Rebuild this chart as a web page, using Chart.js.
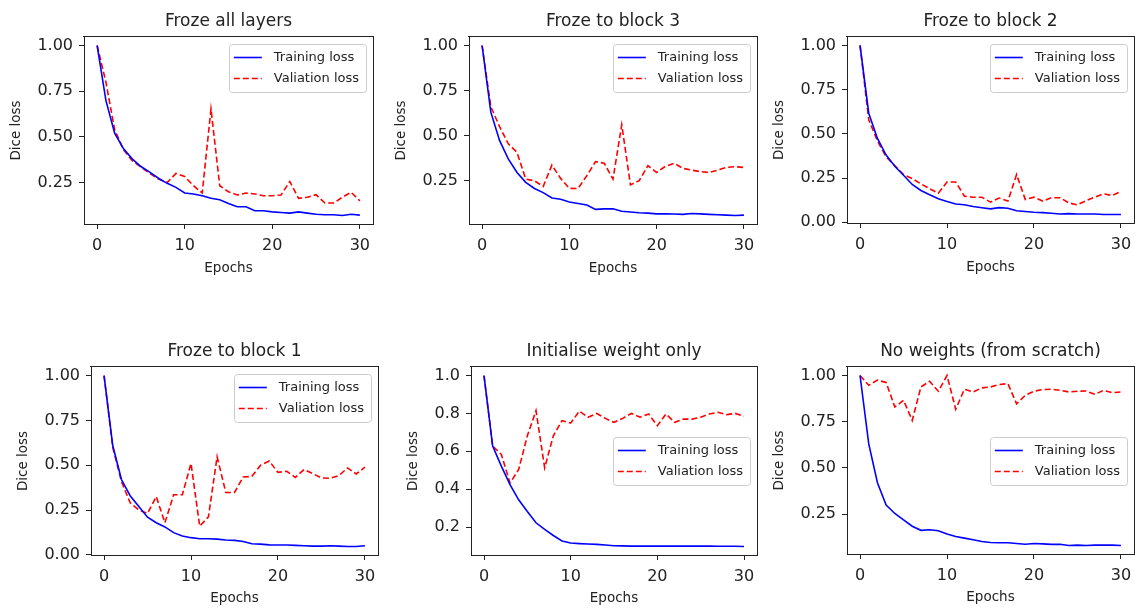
<!DOCTYPE html>
<html>
<head>
<meta charset="utf-8">
<script src="https://cdn.jsdelivr.net/npm/chart.js@4.4.1/dist/chart.umd.min.js"></script>
<style>
html, body { margin: 0; padding: 0; background: #fff; overflow: hidden; width: 1135px; height: 608px; }
canvas { position: absolute; }
</style>
</head>
<body>
<canvas id="c1"></canvas>
<canvas id="c2"></canvas>
<canvas id="c3"></canvas>
<canvas id="c4"></canvas>
<canvas id="c5"></canvas>
<canvas id="c6"></canvas>
<script>
// x values (epochs)
const epochs = [0,1,2,3,4,5,6,7,8,9,10,11,12,13,14,15,16,17,18,19,20,21,22,23,24,25,26,27,28,29,30];
const xTicks = [0, 10, 20, 30];

const ticksQuarter = [0.25, 0.5, 0.75, 1.0];
const ticksQuarterZero = [0, 0.25, 0.5, 0.75, 1.0];
const ticksFifth = [0.2, 0.4, 0.6, 0.8, 1.0];

const titles = ['Froze all layers', 'Froze to block 3', 'Froze to block 2',
                'Froze to block 1', 'Initialise weight only', 'No weights (from scratch)'];

const trainAll = [1.00,0.70,0.52,0.436,0.38,0.338,0.307,0.274,0.246,0.224,0.193,0.188,0.178,0.164,0.156,0.136,0.118,0.118,0.096,0.096,0.09,0.086,0.083,0.09,0.083,0.077,0.074,0.074,0.07,0.077,0.072];
const valAll = [1.00,0.80,0.54,0.43,0.37,0.335,0.30,0.27,0.25,0.30,0.283,0.233,0.193,0.653,0.233,0.20,0.182,0.193,0.188,0.178,0.178,0.182,0.256,0.164,0.17,0.184,0.138,0.138,0.17,0.197,0.15];

const trainB3 = [1.00,0.63,0.473,0.37,0.295,0.24,0.206,0.183,0.153,0.146,0.131,0.123,0.114,0.09,0.093,0.093,0.08,0.075,0.071,0.069,0.065,0.065,0.064,0.062,0.067,0.065,0.062,0.06,0.058,0.056,0.058];
const valB3 = [1.00,0.66,0.55,0.454,0.407,0.258,0.249,0.217,0.336,0.262,0.207,0.206,0.277,0.355,0.346,0.258,0.56,0.226,0.249,0.333,0.295,0.329,0.346,0.318,0.308,0.30,0.295,0.308,0.323,0.327,0.323];

const trainB2 = [1.00,0.617,0.474,0.38,0.317,0.266,0.214,0.18,0.156,0.133,0.118,0.104,0.099,0.089,0.082,0.076,0.083,0.08,0.065,0.061,0.057,0.055,0.051,0.047,0.049,0.047,0.047,0.047,0.044,0.044,0.044];
const valB2 = [1.00,0.58,0.46,0.37,0.32,0.27,0.247,0.218,0.19,0.165,0.228,0.228,0.148,0.142,0.142,0.114,0.137,0.12,0.27,0.129,0.142,0.12,0.139,0.139,0.11,0.099,0.123,0.142,0.161,0.152,0.175];

const trainB1 = [1.00,0.61,0.42,0.33,0.27,0.21,0.179,0.156,0.124,0.105,0.096,0.09,0.09,0.088,0.083,0.081,0.075,0.062,0.06,0.056,0.055,0.055,0.053,0.051,0.049,0.049,0.051,0.049,0.047,0.047,0.051];
const valB1 = [1.00,0.60,0.41,0.29,0.25,0.231,0.325,0.179,0.335,0.335,0.51,0.16,0.212,0.547,0.348,0.348,0.434,0.438,0.50,0.523,0.46,0.466,0.432,0.476,0.453,0.429,0.427,0.442,0.485,0.451,0.489];

const trainInit = [1.00,0.628,0.522,0.424,0.344,0.282,0.223,0.188,0.156,0.127,0.116,0.113,0.111,0.109,0.106,0.102,0.101,0.10,0.10,0.10,0.10,0.10,0.10,0.10,0.10,0.10,0.10,0.099,0.099,0.099,0.098];
const valInit = [1.00,0.628,0.584,0.433,0.504,0.682,0.815,0.513,0.682,0.762,0.749,0.812,0.78,0.80,0.774,0.753,0.774,0.80,0.78,0.797,0.735,0.797,0.753,0.77,0.77,0.78,0.797,0.806,0.794,0.80,0.785];

const trainScratch = [1.00,0.63,0.42,0.30,0.254,0.22,0.185,0.163,0.166,0.161,0.143,0.13,0.121,0.112,0.103,0.097,0.096,0.096,0.092,0.088,0.092,0.09,0.087,0.088,0.081,0.083,0.081,0.083,0.083,0.083,0.081];
const valScratch = [1.00,0.947,0.975,0.962,0.83,0.866,0.757,0.938,0.969,0.915,1.0,0.817,0.926,0.911,0.933,0.938,0.951,0.956,0.847,0.893,0.915,0.924,0.926,0.92,0.911,0.915,0.916,0.898,0.92,0.907,0.911];

const FONT = '"DejaVu Sans", sans-serif';
const TEXT = '#222222';
const SPINE = '#222222';
const YAXIS_W = 90, XAXIS_H = 55, TITLE_H = 35;

// plot area boxes [left, top, right, bottom] in page pixels
const plots = [
  { id: 'c1', title: titles[0], train: trainAll, val: valAll, yTicks: ticksQuarter, dec: 2, loc: 'upper right', area: [84, 37, 373, 224], yPad: 14, xPad: 2 },
  { id: 'c2', title: titles[1], train: trainB3, val: valB3, yTicks: ticksQuarter, dec: 2, loc: 'upper right', area: [469, 37, 757, 224], yPad: 14, xPad: 2 },
  { id: 'c3', title: titles[2], train: trainB2, val: valB2, yTicks: ticksQuarterZero, dec: 2, loc: 'upper right', area: [847, 37, 1134, 223], yPad: 14, xPad: 2 },
  { id: 'c4', title: titles[3], train: trainB1, val: valB1, yTicks: ticksQuarterZero, dec: 2, loc: 'upper right', area: [91, 367, 378, 555], yPad: 14.5, xPad: 3.5 },
  { id: 'c5', title: titles[4], train: trainInit, val: valInit, yTicks: ticksFifth, dec: 1, loc: 'center right', area: [471, 367, 757, 555], yPad: 24, xPad: 3.5 },
  { id: 'c6', title: titles[5], train: trainScratch, val: valScratch, yTicks: ticksQuarter, dec: 2, loc: 'center right', area: [847, 367, 1134, 554], yPad: 14, xPad: 3.5 }
];

// top and right spines (left and bottom come from the axis borders)
const frame = {
  id: 'frame',
  afterDraw(chart) {
    const a = chart.chartArea, ctx = chart.ctx;
    const l = Math.round(a.left), t = Math.round(a.top), r = Math.round(a.right), b = Math.round(a.bottom);
    ctx.save();
    ctx.fillStyle = SPINE;
    ctx.fillRect(l - 1, t - 1, r - l + 2, 1);
    ctx.fillRect(r, t - 1, 1, b - t + 2);
    ctx.restore();
  }
};

// legend drawn inside the plot area
const boxLegend = {
  id: 'boxLegend',
  afterDatasetsDraw(chart, args, opts) {
    const ctx = chart.ctx, a = chart.chartArea;
    const items = chart.data.datasets;
    ctx.save();
    ctx.font = '13px ' + FONT;
    const textW = Math.max(...items.map(d => ctx.measureText(d.label).width));
    const w = 5 + 28 + 12 + textW + 7, h = 48;
    const x = a.right - 7 - w;
    const y = opts.loc === 'center right' ? (a.top + a.bottom) / 2 - h / 2 : a.top + 6.5;
    ctx.fillStyle = 'rgba(255,255,255,0.8)';
    ctx.strokeStyle = '#cccccc';
    ctx.lineWidth = 1;
    ctx.beginPath();
    ctx.roundRect(Math.round(x) + 0.5, Math.round(y) + 0.5, Math.round(w), Math.round(h), 3);
    ctx.fill();
    ctx.stroke();
    items.forEach((d, i) => {
      const ly = Math.round(y + 13 + i * 21) + 0.5;
      ctx.strokeStyle = d.borderColor;
      ctx.lineWidth = d.borderWidth;
      ctx.setLineDash(d.borderDash || []);
      ctx.beginPath();
      ctx.moveTo(x + 5, ly);
      ctx.lineTo(x + 33, ly);
      ctx.stroke();
      ctx.setLineDash([]);
      ctx.fillStyle = TEXT;
      ctx.textAlign = 'left';
      ctx.textBaseline = 'middle';
      ctx.fillText(d.label, x + 45, ly);
    });
    ctx.restore();
  }
};

plots.forEach(p => {
  const [L, T, R, B] = p.area;
  const canvas = document.getElementById(p.id);
  canvas.width = R - L + YAXIS_W + 2;
  canvas.height = B - T + TITLE_H + XAXIS_H;
  canvas.style.left = (L - YAXIS_W) + 'px';
  canvas.style.top = (T - TITLE_H) + 'px';

  const all = p.train.concat(p.val);
  const lo = Math.min(...all), hi = Math.max(...all);
  const margin = (hi - lo) * 0.05;

  new Chart(canvas, {
    type: 'line',
    data: {
      datasets: [
        {
          label: 'Training loss',
          data: p.train.map((v, i) => ({ x: epochs[i], y: v })),
          borderColor: '#0000ff',
          borderWidth: 1.6,
          pointRadius: 0,
          tension: 0
        },
        {
          label: 'Valiation loss',
          data: p.val.map((v, i) => ({ x: epochs[i], y: v })),
          borderColor: '#ff0000',
          borderWidth: 1.6,
          borderDash: [6, 3],
          pointRadius: 0,
          tension: 0
        }
      ]
    },
    options: {
      responsive: false,
      animation: false,
      events: [],
      layout: { padding: { left: 0, top: 0, bottom: 0, right: 2 } },
      plugins: {
        legend: { display: false },
        tooltip: { enabled: false },
        title: {
          display: true,
          text: p.title,
          fullSize: false,
          color: TEXT,
          font: { family: FONT, size: 17, weight: 'normal', lineHeight: 1.2 },
          padding: { top: 9.6, bottom: 5 }
        },
        boxLegend: { loc: p.loc }
      },
      scales: {
        x: {
          type: 'linear',
          min: -1.5,
          max: 31.5,
          afterBuildTicks: s => { s.ticks = xTicks.map(v => ({ value: v })); },
          afterFit: s => { s.height = XAXIS_H; s.paddingLeft = 0; s.paddingRight = 0; },
          grid: { display: true, drawOnChartArea: false, drawTicks: true, tickLength: 5, tickWidth: 1, tickColor: SPINE, color: SPINE },
          border: { display: true, color: SPINE, width: 1 },
          ticks: { color: TEXT, font: { family: FONT, size: 16 }, padding: 7, maxRotation: 0 },
          title: { display: true, text: 'Epochs', color: TEXT, font: { family: FONT, size: 13.5 }, padding: { top: 0, bottom: p.xPad } }
        },
        y: {
          min: lo - margin,
          max: hi + margin,
          afterBuildTicks: s => { s.ticks = p.yTicks.map(v => ({ value: v })); },
          afterFit: s => { s.width = YAXIS_W; s.paddingTop = 0; s.paddingBottom = 0; },
          grid: { display: true, drawOnChartArea: false, drawTicks: true, tickLength: 5, tickWidth: 1, tickColor: SPINE, color: SPINE },
          border: { display: true, color: SPINE, width: 1 },
          ticks: { color: TEXT, font: { family: FONT, size: 16 }, padding: 6, callback: v => v.toFixed(p.dec) },
          title: { display: true, text: 'Dice loss', color: TEXT, font: { family: FONT, size: 13.5 }, padding: { top: p.yPad, bottom: 0 } }
        }
      }
    },
    plugins: [frame, boxLegend]
  });
});
</script>
</body>
</html>
